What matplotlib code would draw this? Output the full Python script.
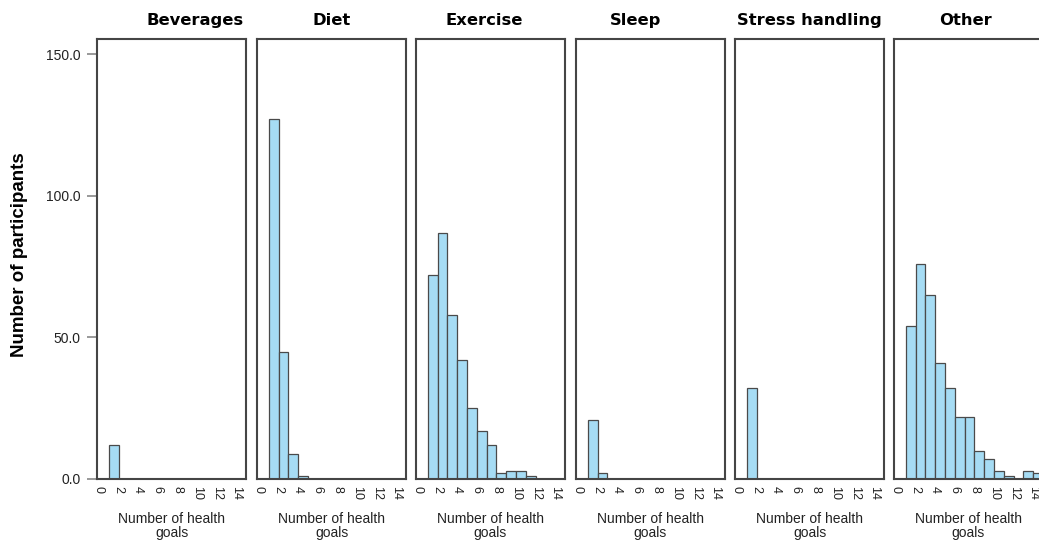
import matplotlib
matplotlib.use("Agg")
import matplotlib.pyplot as plt
import numpy as np

# ---- data ----
categories = ["Beverages", "Diet", "Exercise", "Sleep", "Stress handling", "Other"]
bin_left = list(range(15))  # left edge of each 1-wide bin (number of health goals)
beverages = [0, 12, 0, 0, 0, 0, 0, 0, 0, 0, 0, 0, 0, 0, 0]
diet      = [0, 127, 45, 9, 1, 0, 0, 0, 0, 0, 0, 0, 0, 0, 0]
exercise  = [0, 72, 87, 58, 42, 25, 17, 12, 2, 3, 3, 1, 0, 0, 0]
sleep     = [0, 21, 2, 0, 0, 0, 0, 0, 0, 0, 0, 0, 0, 0, 0]
stress    = [0, 32, 0, 0, 0, 0, 0, 0, 0, 0, 0, 0, 0, 0, 0]
other     = [0, 54, 76, 65, 41, 32, 22, 22, 10, 7, 3, 1, 0, 3, 2]
series = [beverages, diet, exercise, sleep, stress, other]
x_ticks = [0, 2, 4, 6, 8, 10, 12, 14]
y_ticks = [0, 50, 100, 150]

# ---- style / layout ----
W, H = 1039, 543
fig = plt.figure(figsize=(W / 100, H / 100), dpi=100)
fig.patch.set_facecolor("white")

panel_left_px = [97, 257, 416, 576, 735, 894]
panel_w_px = 149
top_px, bottom_px = 39, 479
title_x_frac = [0.66, 0.50, 0.46, 0.40, 0.50, 0.48]

bar_color = "#A6DCF4"
edge_color = "#4a4a4a"
frame_color = "#454545"
tick_font = "Liberation Sans"

for i, (cat, vals) in enumerate(zip(categories, series)):
    ax = fig.add_axes([panel_left_px[i] / W, 1 - bottom_px / H,
                       panel_w_px / W, (bottom_px - top_px) / H])
    x = np.array(bin_left)
    v = np.array(vals)
    m = v > 0
    ax.bar(x[m], v[m], width=1, align="edge", color=bar_color,
           edgecolor=edge_color, linewidth=0.9, zorder=2)
    ax.set_xlim(-0.2, 15.0)
    ax.set_ylim(0, 155.3)
    for s in ax.spines.values():
        s.set_color(frame_color)
        s.set_linewidth(1.5)
        s.set_zorder(3)
    ax.set_xticks(x_ticks)
    ax.set_xticklabels([str(t) for t in x_ticks], rotation=270,
                       fontsize=9, family=tick_font, color="#222222")
    ax.tick_params(axis="x", length=0, pad=5)
    if i == 0:
        ax.set_yticks(y_ticks)
        ax.set_yticklabels([f"{t:.1f}" for t in y_ticks], fontsize=10,
                           family=tick_font, color="#222222")
        ax.tick_params(axis="y", length=7, width=1.2, color="#888888", pad=5)
    else:
        ax.set_yticks([])
    ax.set_xlabel("Number of health\ngoals", fontsize=10, family=tick_font,
                  color="#222222", labelpad=9, linespacing=0.92)
    ax.text(title_x_frac[i], 1.025, cat, transform=ax.transAxes,
            ha="center", va="bottom", fontsize=11.8, fontweight="bold",
            family="DejaVu Sans", color="black")

fig.text(20 / W, 1 - 255 / H, "Number of participants", rotation=90,
         ha="center", va="center", fontsize=13.5, fontweight="bold",
         family="Liberation Sans", color="black")

fig.savefig("out.png", dpi=100, facecolor="white")
